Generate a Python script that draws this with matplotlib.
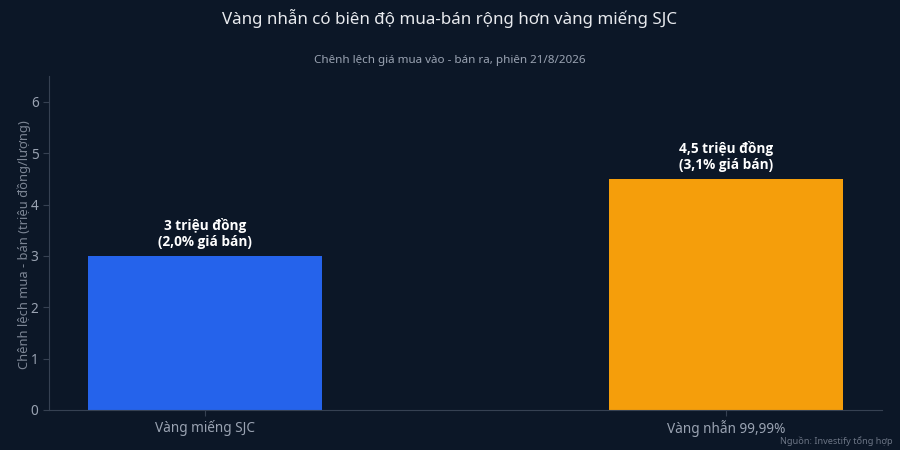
import matplotlib
matplotlib.use('Agg')
import matplotlib.pyplot as plt

#######################################################################
# Data
#######################################################################
categories = ['Vàng miếng SJC', 'Vàng nhẫn 99,99%']
spreads = [3.0, 4.5]
bar_labels = ['3 triệu đồng\n(2,0% giá bán)', '4,5 triệu đồng\n(3,1% giá bán)']
bar_colors = ['#2563eb', '#f59e0b']
yticks = [0, 1, 2, 3, 4, 5, 6]

BG = '#0c1727'
GRID = '#364152'
TICK = '#9aa3b2'

plt.rcParams['font.family'] = ['Noto Sans', 'DejaVu Sans']

#######################################################################
# Plot
#######################################################################
fig = plt.figure(figsize=(9, 4.5), dpi=100, facecolor=BG)
ax = fig.add_axes([0.0544, 0.0889, 0.9256, 0.742])
ax.set_facecolor(BG)

x = list(range(len(categories)))
bars = ax.bar(x, spreads, width=0.45, color=bar_colors)

for b, lab in zip(bars, bar_labels):
    ax.annotate(lab, (b.get_x() + b.get_width() / 2, b.get_height()),
                xytext=(0, 5), textcoords='offset points',
                ha='center', va='bottom', fontsize=9.8, fontweight='bold',
                family=['Open Sans', 'DejaVu Sans'],
                color='white', linespacing=1.2)

ax.set_xlim(-0.3, 1.3)
ax.set_ylim(0, 6.5)
ax.set_xticks(x)
ax.set_xticklabels(categories)
ax.set_yticks(yticks)

for s in ['top', 'right']:
    ax.spines[s].set_visible(False)
for s in ['left', 'bottom']:
    ax.spines[s].set_color(GRID)
    ax.spines[s].set_linewidth(0.8)

ax.tick_params(axis='both', colors=GRID, labelcolor=TICK, labelsize=9.8, length=4, width=0.8)
ax.set_ylabel('Chênh lệch mua - bán (triệu đồng/lượng)', color='#7c8594', fontsize=9.3)
ax.yaxis.set_label_coords(-0.021, 0.495)

fig.text(0.5, 0.958, 'Vàng nhẫn có biên độ mua-bán rộng hơn vàng miếng SJC',
         ha='center', va='center', fontsize=12.2, color='#e8eaee')
fig.text(0.5, 0.865, 'Chênh lệch giá mua vào - bán ra, phiên 21/8/2026',
         ha='center', va='center', fontsize=8.4, color='#9aa3b2')
fig.text(0.992, 0.02, 'Nguồn: Investify tổng hợp',
         ha='right', va='center', fontsize=6.6, color='#6b7484')

fig.savefig('out.png', dpi=100, facecolor=BG)
